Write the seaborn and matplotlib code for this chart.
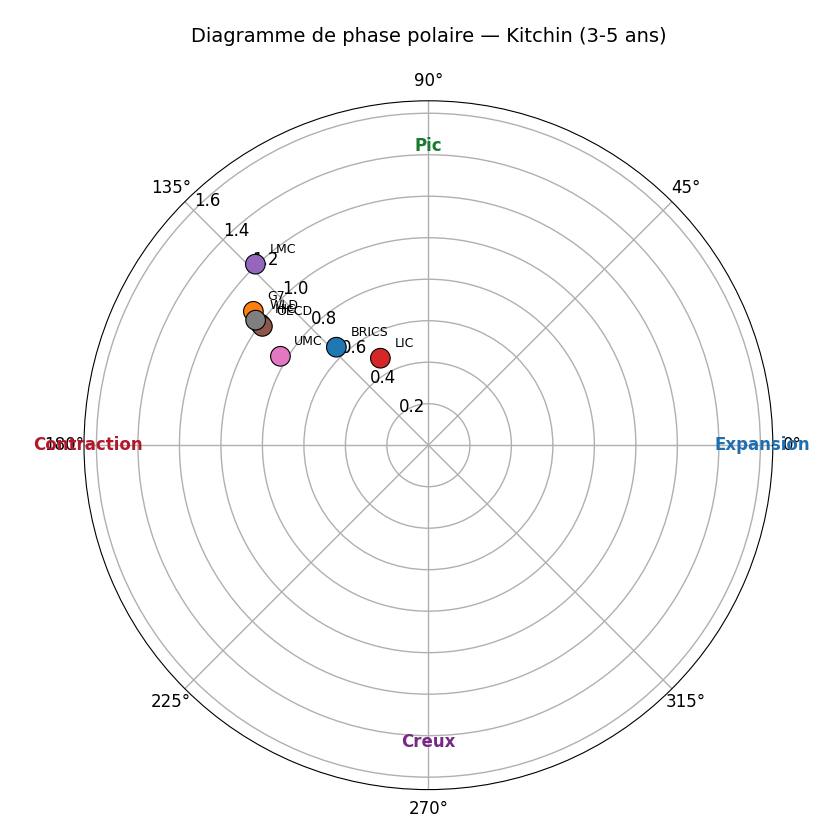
import numpy as np
import pandas as pd
import matplotlib
matplotlib.use("Agg")
import matplotlib.pyplot as plt
import seaborn as sns

# Valeurs (angle de phase en degrés, amplitude)
regions = ["BRICS", "G7", "HIC", "LIC", "LMC", "OECD", "UMC", "WLD"]
phase_deg = [133.2, 142.6, 144.2, 118.9, 133.7, 144.4, 149.0, 144.1]
amplitude = [0.648, 1.062, 0.998, 0.479, 1.207, 0.984, 0.832, 1.028]

phase_names = ["Expansion", "Pic", "Contraction", "Creux"]
phase_angles = [0, 90, 180, 270]
phase_radii = [1.61, 1.44, 1.64, 1.43]
phase_colors = ["#1f6fb0", "#1a7a30", "#b2182b", "#762a83"]

df = pd.DataFrame({"region": regions,
                   "theta": np.deg2rad(phase_deg),
                   "r": amplitude})

sns.set_style("white")
plt.rcParams.update({"text.color": "black", "xtick.color": "black",
                     "ytick.color": "black", "axes.labelcolor": "black"})
fig = plt.figure(figsize=(8.4, 8.4), dpi=100)
ax = fig.add_subplot(111, projection="polar")

sns.scatterplot(data=df, x="theta", y="r", hue="region", hue_order=regions,
                palette="tab10", s=200, edgecolor="black", linewidth=0.8,
                legend=False, ax=ax, zorder=3)

for _, row in df.iterrows():
    ax.annotate(row["region"], (row["theta"], row["r"]), xytext=(10, 8),
                textcoords="offset points", fontsize=9)

for name, ang, rad, col in zip(phase_names, phase_angles, phase_radii, phase_colors):
    ax.text(np.deg2rad(ang), rad, name, color=col, fontsize=12,
            fontweight="bold", ha="center", va="center")

ax.set_ylim(0, 1.66)
ax.set_yticks([0.2, 0.4, 0.6, 0.8, 1.0, 1.2, 1.4, 1.6])
ax.set_rlabel_position(135)
ax.tick_params(labelsize=12)
ax.grid(True, color="#b0b0b0", linewidth=1)
ax.spines["polar"].set_color("black")
ax.set_xlabel("")
ax.set_ylabel("")
ax.set_title("Diagramme de phase polaire — Kitchin (3-5 ans)", fontsize=14, pad=42)

plt.subplots_adjust(left=0.1, right=0.92, top=0.88, bottom=0.06)
plt.savefig("out.png", dpi=100)
